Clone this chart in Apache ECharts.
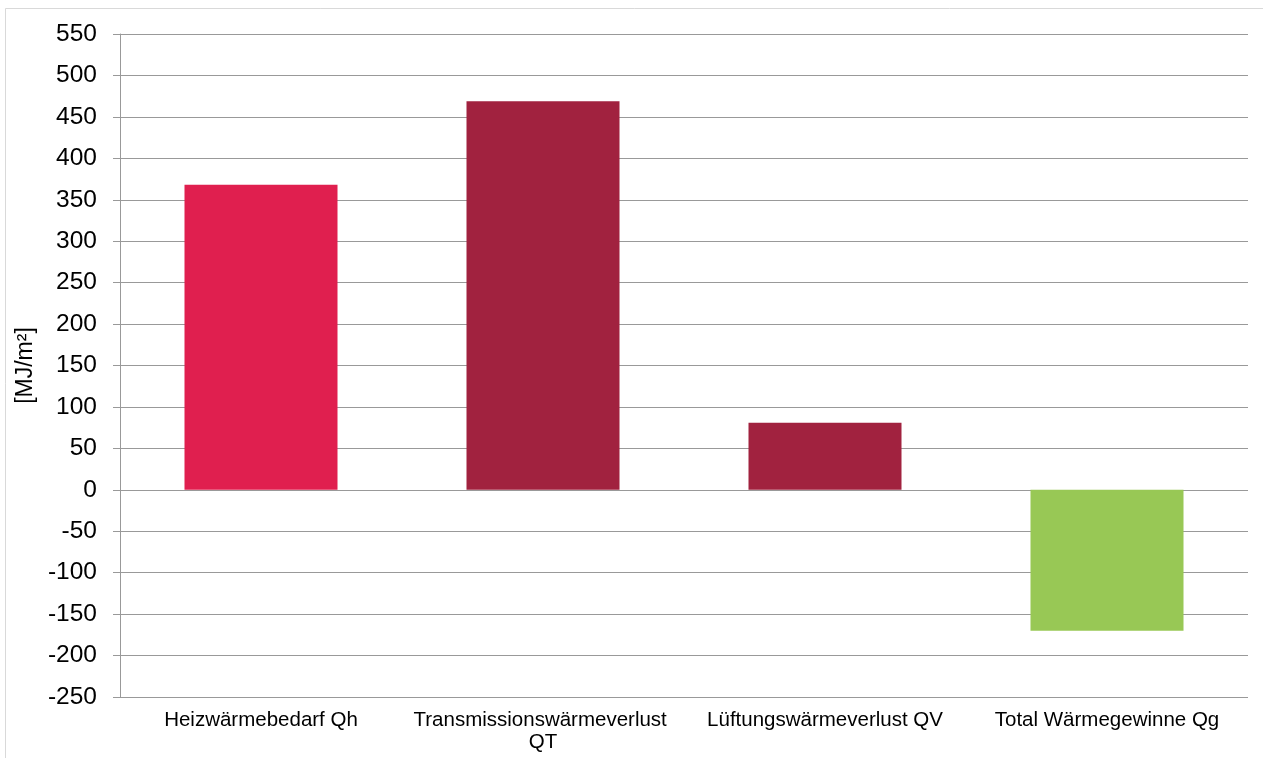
<!DOCTYPE html>
<html>
<head>
    <meta charset="utf-8">
    <script src="https://cdn.jsdelivr.net/npm/echarts@6/dist/echarts.min.js"></script>
    <style>
        body{
            margin:0;
            padding:0;
        }
    </style>
</head>
<body>
<div id="main" style="width:1263px;height:758px;"></div>
<script type="text/javascript">
var myChart = echarts.init(document.getElementById('main'));

// Kategorien und Werte [MJ/m²]
let categories = ['Heizwärmebedarf Qh', 'Transmissionswärmeverlust QT', 'Lüftungswärmeverlust QV', 'Total Wärmegewinne Qg'];
let values = [368, 469, 81, -170];
let barColors = ['#E01F4F', '#A1223F', '#A1223F', '#98C855'];

let option = {
  animation: false,
  backgroundColor: '#fff',
  graphic: [{
    type: 'rect',
    shape: { x: 5.5, y: 8.5, width: 1300, height: 800 },
    style: { fill: 'none', stroke: '#d9d9d9', lineWidth: 1 },
    silent: true
  }],
  grid: {
    left: 120,
    right: 15,
    top: 34,
    bottom: 61
  },
  xAxis: {
    type: 'category',
    data: categories,
    axisLine: { show: false },
    axisTick: { show: false },
    axisLabel: {
      color: '#000',
      fontFamily: 'Liberation Sans',
      fontSize: 20.5,
      lineHeight: 22,
      margin: 12,
      width: 275,
      overflow: 'break',
      interval: 0
    }
  },
  yAxis: {
    type: 'value',
    min: -250,
    max: 550,
    interval: 50,
    name: '[MJ/m²]',
    nameLocation: 'middle',
    nameGap: 80,
    nameTextStyle: {
      color: '#000',
      fontFamily: 'Liberation Sans',
      fontSize: 23
    },
    axisLine: { show: true, lineStyle: { color: '#999', width: 1 } },
    axisTick: { show: true, length: 7, lineStyle: { color: '#999' } },
    axisLabel: {
      color: '#000',
      fontFamily: 'Liberation Sans',
      fontSize: 24.5,
      margin: 23
    },
    splitLine: { show: true, lineStyle: { color: '#999', width: 1 } }
  },
  series: [{
    type: 'bar',
    barWidth: 153,
    data: values.map(function (v, i) {
      return { value: v, itemStyle: { color: barColors[i] } };
    })
  }]
};
myChart.setOption(option);
</script>
</body>
</html>
